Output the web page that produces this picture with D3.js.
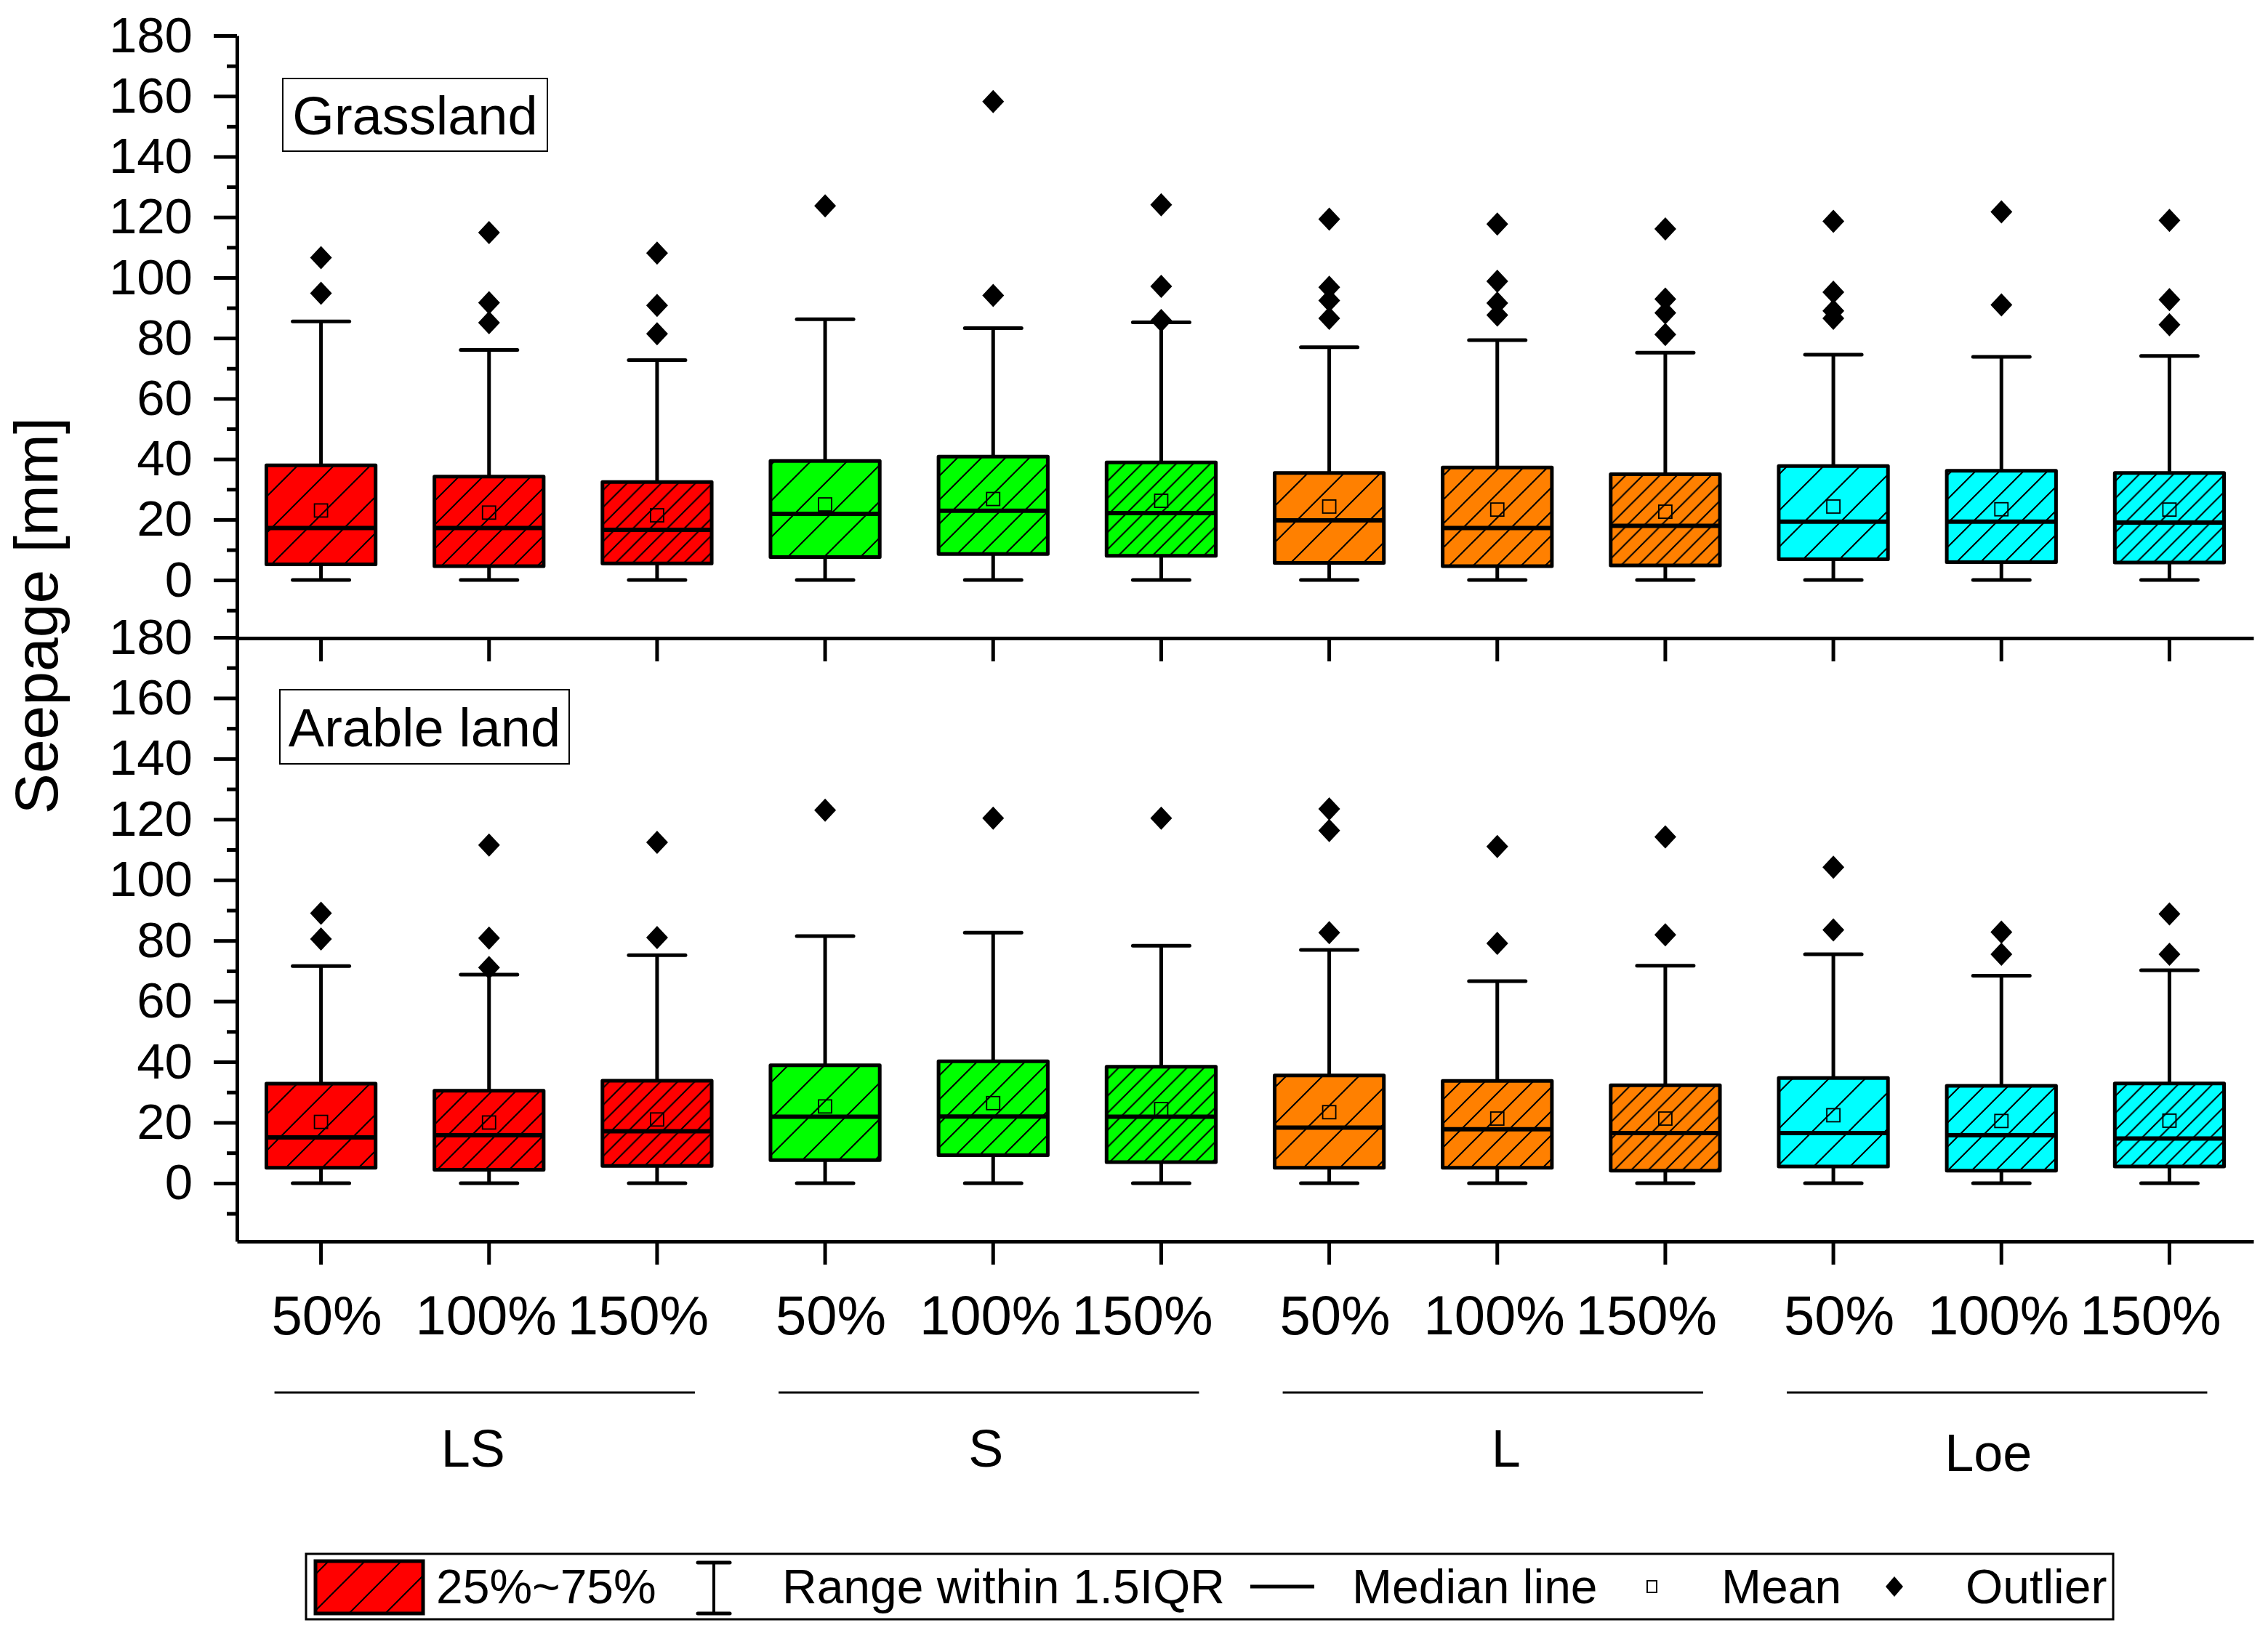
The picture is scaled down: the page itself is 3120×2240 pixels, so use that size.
<!DOCTYPE html>
<html>
<head>
<meta charset="utf-8">
<script src="https://cdn.jsdelivr.net/npm/d3@7"></script>
<style>
  html, body { margin: 0; padding: 0; background: #fff; }
  text { font-family: "Liberation Sans", Arial, sans-serif; fill: #000; }
</style>
</head>
<body>
<svg id="chart" width="3120" height="2240"></svg>
<script>
// ---------- data ----------
const groups = ["LS", "S", "L", "Loe"];
const levels = ["50%", "100%", "150%"];
const groupColors = ["#FF0000", "#00FF00", "#FF8000", "#00FFFF"];
const yTicks = [0, 20, 40, 60, 80, 100, 120, 140, 160, 180];
const yMinorTicks = [-10, 10, 30, 50, 70, 90, 110, 130, 150, 170];
const panelNames = ["Grassland", "Arable land"];

// Grassland (order: LS 50,100,150, S ..., L ..., Loe ...)
const grassWhiskerLow = [0, 0, 0, 0, 0, 0, 0, 0, 0, 0, 0, 0];
const grassQ1     = [5.2, 4.6, 5.5, 7.6, 8.6, 8.0, 5.7, 4.6, 4.8, 6.9, 5.9, 5.8];
const grassMedian = [17.2, 17.2, 16.6, 21.9, 22.9, 22.1, 19.7, 17.2, 17.9, 19.3, 19.3, 19.0];
const grassQ3     = [37.9, 34.2, 32.4, 39.4, 40.8, 38.9, 35.4, 37.2, 35.0, 37.7, 36.1, 35.4];
const grassWhiskerHigh = [85.5, 76.1, 72.7, 86.2, 83.3, 85.2, 77.0, 79.3, 75.2, 74.5, 73.8, 74.1];
const grassMean   = [23.0, 22.3, 21.4, 25.0, 26.8, 26.2, 24.3, 23.3, 22.6, 24.3, 23.4, 23.3];
const grassOutliers = [
  [106.6, 94.8], [114.9, 91.7, 85.1], [108.1, 90.8, 81.4],
  [123.7], [158.2, 94.1], [124.1, 97.1, 85.8],
  [119.3, 96.8, 92.4, 86.5], [117.7, 98.8, 91.6, 87.6], [116.1, 92.9, 88.3, 81.2],
  [118.6, 95.2, 89.0, 86.5], [121.7, 91.0], [118.9, 92.7, 84.4]
];

// Arable land
const arableWhiskerLow = [0, 0, 0, 0, 0, 0, 0, 0, 0, 0, 0, 0];
const arableQ1     = [5.1, 4.4, 5.7, 7.6, 9.2, 6.9, 5.1, 5.1, 4.1, 5.5, 4.1, 5.5];
const arableMedian = [15.1, 15.8, 17.1, 21.9, 22.0, 21.9, 18.3, 17.8, 16.5, 16.5, 15.8, 14.7];
const arableQ3     = [32.8, 30.5, 33.8, 38.9, 40.2, 38.4, 35.5, 33.7, 32.3, 34.7, 32.1, 32.9];
const arableWhiskerHigh = [71.6, 68.8, 75.2, 81.5, 82.6, 78.3, 76.9, 66.6, 71.7, 75.5, 68.4, 70.2];
const arableMean   = [20.2, 20.0, 21.0, 25.3, 26.4, 24.4, 23.4, 21.3, 21.3, 22.4, 20.5, 20.6];
const arableOutliers = [
  [89.0, 80.5], [111.5, 80.8, 71.1], [112.4, 81.0],
  [123.0], [120.4], [120.4],
  [123.4, 116.3, 82.6], [111.0, 79.1], [114.2, 81.9],
  [104.2, 83.5], [82.8, 75.5], [88.8, 75.5]
];

const legendLabels = ["25%~75%", "Range within 1.5IQR", "Median line", "Mean", "Outlier"];

// ---------- layout ----------
const svg = d3.select("#chart");
svg.append("rect").attr("width", 3120).attr("height", 2240).attr("fill", "#fff");

const xLeft = 326, xRight = 3100;
const cats = d3.range(groups.length * levels.length);
const x = d3.scaleBand().domain(cats).range([xLeft, xRight]).paddingInner(0).paddingOuter(0);
const boxW = x.bandwidth() * 0.65;
const capW = 78;

const yDomain = [-19.2, 180];
const yTop = d3.scaleLinear().domain(yDomain).range([878, 49]);
const yBot = d3.scaleLinear().domain(yDomain).range([1708, 877]);

// hatch patterns: density by level
const hatchPeriods = [50, 33, 23.5];
const defs = svg.append("defs");
groupColors.forEach((c, gi) => {
  hatchPeriods.forEach((p, li) => {
    const pat = defs.append("pattern")
      .attr("id", `h${gi}_${li}`)
      .attr("patternUnits", "userSpaceOnUse")
      .attr("width", p).attr("height", p);
    pat.append("rect").attr("width", p).attr("height", p).attr("fill", c);
    pat.append("path")
      .attr("d", `M0,${p} L${p},0 M${-p/2},${p/2} L${p/2},${-p/2} M${p/2},${1.5*p} L${1.5*p},${p/2}`)
      .attr("stroke", "#000").attr("stroke-width", 2);
  });
});

function drawPanel(y, lo, q1, med, q3, hi, mean, outs, name, boxRect) {
  const g = svg.append("g");
  // left axis (major)
  const ax = g.append("g").attr("transform", `translate(${xLeft},0)`)
    .call(d3.axisLeft(y).tickValues(yTicks).tickSize(32).tickSizeOuter(0).tickPadding(29));
  ax.select(".domain").attr("stroke-width", 5).attr("stroke", "#000");
  ax.selectAll(".tick line").attr("stroke-width", 5);
  ax.selectAll(".tick text").attr("font-size", 69).attr("font-family", "Liberation Sans, Arial, sans-serif");
  // minor
  const axm = g.append("g").attr("transform", `translate(${xLeft},0)`)
    .call(d3.axisLeft(y).tickValues(yMinorTicks).tickSize(14).tickFormat(""));
  axm.select(".domain").remove();
  axm.selectAll(".tick line").attr("stroke-width", 5);
  // bottom axis
  const bx = g.append("g").attr("transform", `translate(0,${y.range()[0]})`)
    .call(d3.axisBottom(x).tickSize(32).tickSizeOuter(0).tickFormat(""));
  bx.select(".domain").attr("stroke-width", 5);
  bx.selectAll(".tick line").attr("stroke-width", 5);

  // panel label
  g.append("rect").attr("x", boxRect[0]).attr("y", boxRect[1]).attr("width", boxRect[2]).attr("height", boxRect[3])
    .attr("fill", "#fff").attr("stroke", "#000").attr("stroke-width", 2);
  g.append("text").attr("x", boxRect[0] + boxRect[2] / 2).attr("y", boxRect[1] + boxRect[3] / 2)
    .attr("dy", "0.36em").attr("text-anchor", "middle").attr("font-size", 74).text(name);

  cats.forEach(i => {
    const cx = x(i) + x.bandwidth() / 2;
    const gi = Math.floor(i / 3), li = i % 3;
    const b = g.append("g");
    // whiskers
    b.append("line").attr("x1", cx).attr("x2", cx).attr("y1", y(q3[i])).attr("y2", y(hi[i]))
      .attr("stroke", "#000").attr("stroke-width", 5);
    b.append("line").attr("x1", cx).attr("x2", cx).attr("y1", y(q1[i])).attr("y2", y(lo[i]))
      .attr("stroke", "#000").attr("stroke-width", 5);
    [hi[i], lo[i]].forEach(v => {
      b.append("line").attr("x1", cx - capW / 2).attr("x2", cx + capW / 2)
        .attr("y1", y(v)).attr("y2", y(v))
        .attr("stroke", "#000").attr("stroke-width", 5).attr("stroke-linecap", "round");
    });
    // box
    b.append("rect").attr("x", cx - boxW / 2).attr("y", y(q3[i]))
      .attr("width", boxW).attr("height", y(q1[i]) - y(q3[i]))
      .attr("fill", `url(#h${gi}_${li})`).attr("stroke", "#000").attr("stroke-width", 5)
      .attr("stroke-linejoin", "round");
    // median
    b.append("line").attr("x1", cx - boxW / 2).attr("x2", cx + boxW / 2)
      .attr("y1", y(med[i])).attr("y2", y(med[i]))
      .attr("stroke", "#000").attr("stroke-width", 6);
    // mean
    b.append("rect").attr("x", cx - 9).attr("y", y(mean[i]) - 9).attr("width", 18).attr("height", 18)
      .attr("fill", "none").attr("stroke", "#000").attr("stroke-width", 1.8);
    // outliers
    outs[i].forEach(v => {
      b.append("path").attr("transform", `translate(${cx},${y(v)})`)
        .attr("d", "M0,-16 L15,0 L0,16 L-15,0 Z").attr("fill", "#000");
    });
  });
}

drawPanel(yTop, grassWhiskerLow, grassQ1, grassMedian, grassQ3, grassWhiskerHigh, grassMean, grassOutliers,
  panelNames[0], [389, 108, 364, 100]);
drawPanel(yBot, arableWhiskerLow, arableQ1, arableMedian, arableQ3, arableWhiskerHigh, arableMean, arableOutliers,
  panelNames[1], [385, 949, 398, 102]);

// x tick labels
const labelDx = [8, -4, -26];
cats.forEach(i => {
  const cx = x(i) + x.bandwidth() / 2;
  svg.append("text").attr("x", cx + labelDx[i % 3]).attr("y", 1836)
    .attr("text-anchor", "middle").attr("font-size", 76).text(levels[i % 3]);
});
// group underlines and labels
const groupLabelDx = [-22, -10, 12, -18];
groups.forEach((gname, gi) => {
  const c0 = x(gi * 3) + x.bandwidth() / 2, c2 = x(gi * 3 + 2) + x.bandwidth() / 2;
  const mid = (c0 + c2) / 2;
  svg.append("line").attr("x1", c0 - 64).attr("x2", c2 + 52).attr("y1", 1916).attr("y2", 1916)
    .attr("stroke", "#000").attr("stroke-width", 3);
  svg.append("text").attr("x", mid + groupLabelDx[gi]).attr("y", gi === 3 ? 2024 : 2018)
    .attr("text-anchor", "middle").attr("font-size", 72).text(gname);
});

// y axis title
svg.append("text").attr("transform", "translate(79,847) rotate(-90)")
  .attr("text-anchor", "middle").attr("font-size", 84).text("Seepage [mm]");

// legend
const lg = svg.append("g");
const lfs = 66;
lg.append("rect").attr("x", 421).attr("y", 2138).attr("width", 2486).attr("height", 90)
  .attr("fill", "#fff").attr("stroke", "#000").attr("stroke-width", 3);
lg.append("rect").attr("x", 434).attr("y", 2148).attr("width", 148).attr("height", 72)
  .attr("fill", "url(#h0_0)").attr("stroke", "#000").attr("stroke-width", 5);
const ly = 2206;
lg.append("text").attr("x", 600).attr("y", ly).attr("font-size", lfs).text(legendLabels[0]);
// whisker icon
lg.append("line").attr("x1", 982).attr("x2", 982).attr("y1", 2150).attr("y2", 2220).attr("stroke", "#000").attr("stroke-width", 4);
[2150, 2220].forEach(yy => lg.append("line").attr("x1", 960).attr("x2", 1004).attr("y1", yy).attr("y2", yy)
  .attr("stroke", "#000").attr("stroke-width", 5).attr("stroke-linecap", "round"));
lg.append("text").attr("x", 1076).attr("y", ly).attr("font-size", lfs).text(legendLabels[1]);
lg.append("line").attr("x1", 1720).attr("x2", 1808).attr("y1", 2183).attr("y2", 2183).attr("stroke", "#000").attr("stroke-width", 5);
lg.append("text").attr("x", 1860).attr("y", ly).attr("font-size", lfs).text(legendLabels[2]);
lg.append("rect").attr("x", 2266).attr("y", 2175).attr("width", 13).attr("height", 16)
  .attr("fill", "none").attr("stroke", "#000").attr("stroke-width", 2);
lg.append("text").attr("x", 2368).attr("y", ly).attr("font-size", lfs).text(legendLabels[3]);
lg.append("path").attr("transform", "translate(2606,2183)").attr("d", "M0,-14 L12,0 L0,14 L-12,0 Z").attr("fill", "#000");
lg.append("text").attr("x", 2704).attr("y", ly).attr("font-size", lfs).text(legendLabels[4]);
</script>
</body>
</html>
